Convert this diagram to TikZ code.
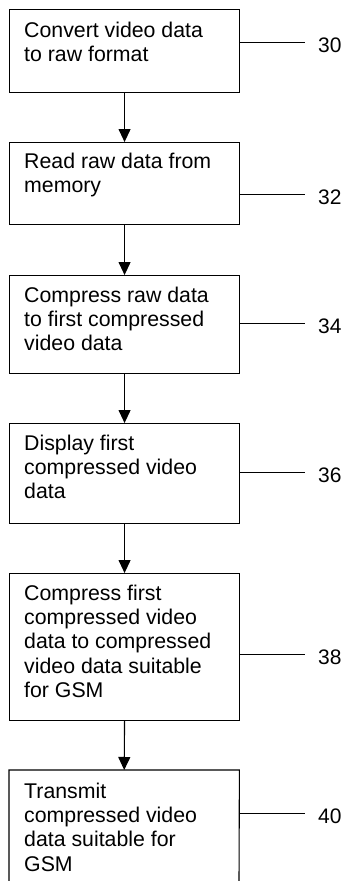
\documentclass[tikz,border=0pt]{standalone}
\usepackage{fontspec}
\setmainfont{Liberation Sans}
\usetikzlibrary{arrows.meta}
\begin{document}
\begin{tikzpicture}[x=1pt,y=1pt,
  boxshape/.style={draw, line width=1.1pt, inner sep=0pt, anchor=north west},
  txt/.style={inner sep=0pt, anchor=base west, font=\fontsize{21.3}{24.4}\selectfont},
  lbl/.style={inner sep=0pt, anchor=base west, font=\fontsize{21}{24}\selectfont},
  flow/.style={line width=1.1pt, -{Triangle[width=12pt,length=13pt]}},
  leader/.style={line width=1pt}]
\useasboundingbox (0,0) rectangle (345,-881);
% boxes
\node[boxshape, minimum width=230pt, minimum height=83pt] (b1) at (9,-9) {};
\node[boxshape, minimum width=230pt, minimum height=82pt] (b2) at (9,-142) {};
\node[boxshape, minimum width=230pt, minimum height=98pt] (b3) at (9,-275) {};
\node[boxshape, minimum width=230pt, minimum height=100pt] (b4) at (9,-423) {};
\node[boxshape, minimum width=230pt, minimum height=147pt] (b5) at (9,-573) {};
\coordinate (b6bl) at (9,-885);
\coordinate (b6br) at (239,-885);
\node[inner sep=0pt, minimum width=230pt, minimum height=115pt, anchor=north west] (b6) at (9,-770) {};
\draw[line width=1.1pt] (b6bl) -- (b6.north west) -- (b6.north east) -- (b6br);
% texts
\node[txt] (t1) at (24,-37) {\parbox[t]{214pt}{\raggedright Convert video data\\to raw format}};
\node[txt] (t2) at (24,-168) {\parbox[t]{214pt}{\raggedright Read raw data from\\memory}};
\node[txt] (t3) at (24,-302) {\parbox[t]{214pt}{\raggedright Compress raw data\\to first compressed\\video data}};
\node[txt] (t4) at (24,-450) {\parbox[t]{214pt}{\raggedright Display first\\compressed video\\data}};
\node[txt] (t5) at (24,-600) {\parbox[t]{214pt}{\raggedright Compress first\\compressed video\\data to compressed\\video data suitable\\for GSM}};
\node[txt] (t6) at (24,-798) {\parbox[t]{214pt}{\raggedright Transmit\\compressed video\\data suitable for\\GSM}};
% arrows
\draw[flow] (b1.south) -- (b2.north);
\draw[flow] (b2.south) -- (b3.north);
\draw[flow] (b3.south) -- (b4.north);
\draw[flow] (b4.south) -- (b5.north);
\draw[flow] (b5.south) -- (b6.north);
% leaders and labels
\coordinate (c30) at (305,-42);
\coordinate (c32) at (305,-194);
\coordinate (c34) at (305,-323);
\coordinate (c36) at (305,-472);
\coordinate (c38) at (305,-654);
\coordinate (c40) at (305,-813);
\draw[leader] (b1.east |- c30) -- (c30);
\draw[leader] (b2.east |- c32) -- (c32);
\draw[leader] (b3.east |- c34) -- (c34);
\draw[leader] (b4.east |- c36) -- (c36);
\draw[leader] (b5.east |- c38) -- (c38);
\draw[leader] (b6.east |- c40) -- (c40);
\node[lbl] (l30) at (318,-52) {30};
\node[lbl] (l32) at (318,-204) {32};
\node[lbl] (l34) at (318,-333) {34};
\node[lbl] (l36) at (318,-482) {36};
\node[lbl] (l38) at (318,-664) {38};
\node[lbl] (l40) at (318,-823) {40};
\end{tikzpicture}
\end{document}
